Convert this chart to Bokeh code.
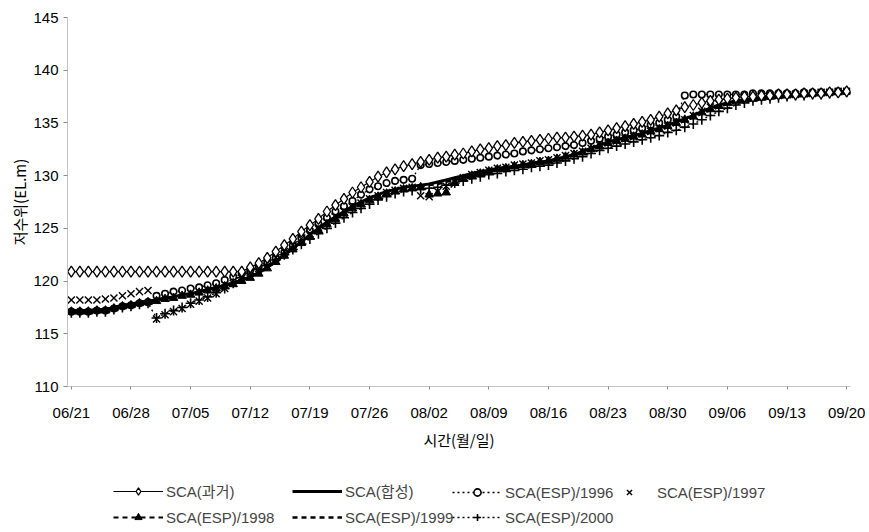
from bokeh.plotting import figure
from bokeh.layouts import column
from bokeh.models import Range1d, FixedTicker, Legend, LegendItem
from bokeh.embed import file_html
from bokeh.resources import INLINE

# ---- data ----
days = list(range(92))  # 06/21 .. 09/20
tick_days = [0, 7, 14, 21, 28, 35, 42, 49, 56, 63, 70, 77, 84, 91]
tick_labels = ["06/21", "06/28", "07/05", "07/12", "07/19", "07/26", "08/02",
               "08/09", "08/16", "08/23", "08/30", "09/06", "09/13", "09/20"]
y_ticks = [110, 115, 120, 125, 130, 135, 140, 145]

sca_past = [120.9, 120.9, 120.9, 120.9, 120.9, 120.9, 120.9, 120.9, 120.9, 120.9,
            120.9, 120.9, 120.9, 120.9, 120.9, 120.9, 120.9, 120.9, 120.9, 120.9,
            120.9, 121.3, 121.7, 122.2, 122.8, 123.4, 124.0, 124.7, 125.3, 125.9,
            126.6, 127.2, 127.8, 128.4, 128.9, 129.4, 129.9, 130.3, 130.6, 130.9,
            131.1, 131.3, 131.5, 131.7, 131.8, 132.0, 132.1, 132.3, 132.5, 132.6,
            132.8, 132.9, 133.1, 133.2, 133.3, 133.4, 133.5, 133.6, 133.6, 133.7,
            133.8, 133.9, 134.1, 134.3, 134.5, 134.7, 134.9, 135.1, 135.3, 135.6,
            135.9, 136.2, 136.5, 136.7, 136.9, 137.1, 137.2, 137.3, 137.4, 137.5,
            137.5, 137.6, 137.6, 137.7, 137.7, 137.7, 137.8, 137.8, 137.8, 137.9,
            137.9, 138.0]

sca_synth = [117.2, 117.2, 117.2, 117.3, 117.3, 117.5, 117.7, 117.8, 118.0, 118.1,
             118.2, 118.4, 118.5, 118.7, 118.8, 119.0, 119.2, 119.4, 119.6, 119.8,
             120.1, 120.4, 120.8, 121.3, 121.9, 122.5, 123.1, 123.7, 124.4, 125.0,
             125.6, 126.1, 126.6, 127.1, 127.5, 127.9, 128.2, 128.5, 128.7, 128.9,
             129.0, 129.1, 129.2, 129.4, 129.6, 129.8, 130.0, 130.2, 130.4, 130.5,
             130.7, 130.8, 130.9, 131.0, 131.2, 131.3, 131.4, 131.6, 131.8, 132.0,
             132.3, 132.6, 132.9, 133.2, 133.4, 133.6, 133.8, 134.0, 134.3, 134.5,
             134.8, 135.1, 135.4, 135.7, 136.1, 136.4, 136.7, 136.9, 137.1, 137.2,
             137.3, 137.4, 137.5, 137.6, 137.6, 137.7, 137.7, 137.8, 137.8, 137.9,
             137.9, 138.0]

esp_1996 = [117.1, 117.1, 117.1, 117.2, 117.2, 117.4, 117.6, 117.7, 117.9, 118.0,
            118.6, 118.8, 119.0, 119.1, 119.3, 119.4, 119.6, 119.8, 120.1, 120.4,
            120.7, 121.0, 121.4, 121.8, 122.2, 122.7, 123.4, 124.1, 124.8, 125.4,
            126.0, 126.6, 127.1, 127.6, 128.2, 128.7, 129.0, 129.3, 129.5, 129.6,
            129.7, 131.0, 131.1, 131.2, 131.3, 131.4, 131.5, 131.6, 131.7, 131.8,
            131.9, 132.0, 132.1, 132.3, 132.4, 132.5, 132.6, 132.7, 132.8, 132.9,
            133.1, 133.3, 133.5, 133.7, 133.9, 134.1, 134.3, 134.5, 134.8, 135.0,
            135.3, 135.6, 137.6, 137.7, 137.7, 137.7, 137.7, 137.7, 137.7, 137.7,
            137.8, 137.8, 137.8, 137.8, 137.8, 137.8, 137.9, 137.9, 137.9, 137.9,
            138.0, 138.0]

esp_1997 = [118.2, 118.2, 118.2, 118.2, 118.3, 118.4, 118.6, 118.8, 119.0, 119.1,
            116.4, 116.8, 117.1, 117.4, 117.8, 118.1, 118.4, 118.8, 119.3, 119.8,
            120.3, 120.8, 121.2, 121.7, 122.2, 122.8, 123.4, 124.0, 124.5, 125.1,
            125.6, 126.1, 126.6, 127.0, 127.4, 127.8, 128.1, 128.4, 128.6, 128.8,
            128.9, 128.1, 128.0, 128.5, 129.0, 129.4, 129.8, 130.1, 130.3, 130.5,
            130.7, 130.8, 131.0, 131.1, 131.2, 131.4, 131.5, 131.7, 131.9, 132.1,
            132.3, 132.6, 132.9, 133.1, 133.3, 133.5, 133.7, 134.0, 134.2, 134.5,
            134.7, 135.0, 135.3, 135.7, 136.1, 136.5, 136.8, 137.0, 137.2, 137.3,
            137.4, 137.5, 137.6, 137.6, 137.7, 137.7, 137.8, 137.8, 137.9, 137.9,
            138.0, 138.0]

esp_1998 = [117.1, 117.1, 117.1, 117.2, 117.2, 117.4, 117.6, 117.7, 117.9, 118.0,
            118.1, 118.3, 118.4, 118.6, 118.7, 118.9, 119.1, 119.3, 119.5, 119.7,
            120.0, 120.3, 120.7, 121.2, 121.8, 122.4, 123.0, 123.6, 124.2, 124.8,
            125.4, 125.9, 126.4, 126.9, 127.3, 127.7, 128.0, 128.3, 128.5, 128.7,
            128.8, 128.9, 128.2, 128.3, 128.4, 129.3, 129.7, 130.0, 130.2, 130.4,
            130.6, 130.7, 130.9, 131.0, 131.1, 131.3, 131.4, 131.6, 131.8, 132.0,
            132.2, 132.5, 132.8, 133.1, 133.3, 133.5, 133.7, 133.9, 134.2, 134.4,
            134.7, 135.0, 135.3, 135.6, 136.0, 136.3, 136.6, 136.9, 137.1, 137.2,
            137.3, 137.4, 137.5, 137.6, 137.6, 137.7, 137.7, 137.8, 137.8, 137.9,
            137.9, 138.0]

esp_1999 = [117.2, 117.2, 117.2, 117.3, 117.3, 117.5, 117.7, 117.8, 118.0, 118.1,
            118.2, 118.4, 118.5, 118.7, 118.8, 119.0, 119.2, 119.4, 119.6, 119.8,
            120.1, 120.4, 120.8, 121.3, 121.9, 122.5, 123.1, 123.7, 124.3, 124.9,
            125.5, 126.0, 126.5, 127.0, 127.4, 127.8, 128.1, 128.4, 128.6, 128.8,
            128.9, 129.0, 129.1, 129.2, 129.4, 129.6, 129.8, 130.0, 130.2, 130.4,
            130.5, 130.7, 130.8, 130.9, 131.1, 131.2, 131.3, 131.5, 131.7, 131.9,
            132.2, 132.5, 132.8, 133.0, 133.2, 133.4, 133.6, 133.8, 134.1, 134.3,
            134.6, 134.9, 135.2, 135.5, 135.9, 136.2, 136.5, 136.8, 137.0, 137.1,
            137.2, 137.3, 137.4, 137.5, 137.6, 137.6, 137.7, 137.7, 137.8, 137.8,
            137.9, 138.0]

esp_2000 = [117.0, 117.0, 117.0, 117.1, 117.1, 117.3, 117.5, 117.6, 117.8, 117.9,
            116.5, 116.9, 117.2, 117.5, 117.9, 118.2, 118.5, 118.9, 119.3, 119.8,
            120.3, 120.7, 121.1, 121.5, 122.0, 122.5, 123.0, 123.5, 124.0, 124.5,
            125.0, 125.5, 126.0, 126.5, 126.9, 127.3, 127.7, 128.0, 128.3, 128.5,
            128.6, 128.7, 128.8, 128.9, 129.1, 129.3, 129.5, 129.7, 129.9, 130.1,
            130.2, 130.4, 130.5, 130.6, 130.8, 130.9, 131.0, 131.2, 131.4, 131.6,
            131.8, 132.1, 132.4, 132.6, 132.8, 133.0, 133.2, 133.4, 133.6, 133.8,
            134.1, 134.3, 134.6, 134.9, 135.3, 135.7, 136.1, 136.4, 136.7, 136.9,
            137.1, 137.2, 137.3, 137.4, 137.5, 137.6, 137.6, 137.7, 137.7, 137.8,
            137.9, 137.9]

labels = ["SCA(과거)", "SCA(합성)", "SCA(ESP)/1996", "SCA(ESP)/1997",
          "SCA(ESP)/1998", "SCA(ESP)/1999", "SCA(ESP)/2000"]

FONT = "'Liberation Sans', 'Noto Sans CJK KR', sans-serif"
KFONT = "'Noto Sans CJK KR', sans-serif"

# series styles (shared by the chart and the legend strip)
S_PAST_L = dict(line_color="black", line_width=1.2)
S_PAST_M = dict(marker="diamond", size=11, fill_color="white", line_color="black", line_width=1.3)
S_SYN = dict(line_color="black", line_width=3)
S_96_L = dict(line_color="black", line_width=1.3, line_dash="2 3")
S_96_M = dict(marker="circle", size=6.5, fill_color="white", line_color="black", line_width=1.6)
S_97_M = dict(marker="x", size=10, line_color="black", line_width=1.4)
S_98_L = dict(line_color="black", line_width=1.8, line_dash="5 4")
S_98_M = dict(marker="triangle", size=8.5, fill_color="black", line_color="black", line_width=1)
S_99_L = dict(line_color="black", line_width=2.4, line_dash="5 4")
S_00_L = dict(line_color="black", line_width=1.3, line_dash="2 3")
S_00_M = dict(marker="cross", size=10, line_color="black", line_width=1.6)

# ---- main chart ----
p = figure(width=866, height=460, output_backend="svg", toolbar_location=None,
           x_range=Range1d(-0.45, 91.45), y_range=Range1d(110, 145),
           min_border_left=67, min_border_right=16, min_border_top=17,
           min_border_bottom=74)
p.outline_line_color = None
p.xgrid.visible = False
p.ygrid.visible = False

p.xaxis.ticker = FixedTicker(ticks=tick_days)
p.xaxis.major_label_overrides = {d: s for d, s in zip(tick_days, tick_labels)}
p.yaxis.ticker = FixedTicker(ticks=y_ticks)
for ax in (p.xaxis[0], p.yaxis[0]):
    ax.major_label_text_font = FONT
    ax.major_label_text_font_size = "15px"
    ax.major_label_text_color = "black"
    ax.axis_line_color = "#c4c4c4"
    ax.major_tick_line_color = "#8a8a8a"
    ax.minor_tick_line_color = None
    ax.major_tick_in = 0
    ax.axis_label_text_font = KFONT
    ax.axis_label_text_font_size = "15px"
    ax.axis_label_text_font_style = "normal"
    ax.axis_label_text_color = "black"
p.xaxis.major_tick_out = 3
p.xaxis.major_label_standoff = 14
p.xaxis.axis_label = "시간(월/일)"
p.xaxis.axis_label_standoff = 5
p.yaxis.major_tick_out = 4
p.yaxis.major_label_standoff = 5
p.yaxis.axis_label = "저수위(EL.m)"
p.yaxis.axis_label_standoff = 0

p.line(days, esp_1996, **S_96_L)
p.scatter(days, esp_1996, **S_96_M)
p.line(days, esp_2000, **S_00_L)
p.scatter(days, esp_2000, **S_00_M)
p.line(days, esp_1999, **S_99_L)
p.line(days, esp_1998, **S_98_L)
p.scatter(days, esp_1998, **S_98_M)
p.line(days, sca_synth, **S_SYN)
p.scatter(days, esp_1997, **S_97_M)
p.line(days, sca_past, **S_PAST_L)
p.scatter(days, sca_past, **S_PAST_M)

# ---- legend strip (below the chart) ----
# The strip's own ranges keep the copies of the series out of view; only the
# legend glyphs are seen.
lg = figure(width=866, height=70, output_backend="svg", toolbar_location=None,
            x_range=Range1d(0, 1), y_range=Range1d(0, 1),
            x_axis_location=None, y_axis_location=None,
            min_border=0, min_border_left=0, min_border_right=0,
            min_border_top=0, min_border_bottom=0)
lg.outline_line_color = None
lg.xgrid.visible = False
lg.ygrid.visible = False

lg_past = [lg.line(days, sca_past, **S_PAST_L), lg.scatter(days, sca_past, **S_PAST_M)]
lg_syn = [lg.line(days, sca_synth, **S_SYN)]
lg_96 = [lg.line(days, esp_1996, **S_96_L), lg.scatter(days, esp_1996, **S_96_M)]
lg_97 = [lg.scatter(days, esp_1997, **S_97_M)]
lg_98 = [lg.line(days, esp_1998, **S_98_L), lg.scatter(days, esp_1998, **S_98_M)]
lg_99 = [lg.line(days, esp_1999, **S_99_L)]
lg_00 = [lg.line(days, esp_2000, **S_00_L), lg.scatter(days, esp_2000, **S_00_M)]

# locations relative to the strip's frame (aligned with the chart frame, x=67)
C1, C2, C3, C4 = 46, 225, 385, 537
R1, R2 = 29, 4
entries = [
    (labels[0], lg_past, C1, R1),
    (labels[1], lg_syn, C2, R1),
    (labels[2], lg_96, C3, R1),
    (labels[3], lg_97, C4, R1),
    (labels[4], lg_98, C1, R2),
    (labels[5], lg_99, C2, R2),
    (labels[6], lg_00, C3, R2),
]
for lab, rends, lx, ly in entries:
    leg = Legend(items=[LegendItem(label=lab, renderers=rends)], location=(lx, ly),
                 orientation="horizontal", padding=0, margin=0, spacing=0,
                 glyph_width=50, glyph_height=18, label_height=18, label_standoff=3,
                 label_text_font=FONT, label_text_font_size="15px",
                 border_line_color=None, background_fill_alpha=0)
    lg.add_layout(leg, "center")

layout = column(p, lg, spacing=0)
open("out.html", "w").write(file_html(layout, INLINE))
